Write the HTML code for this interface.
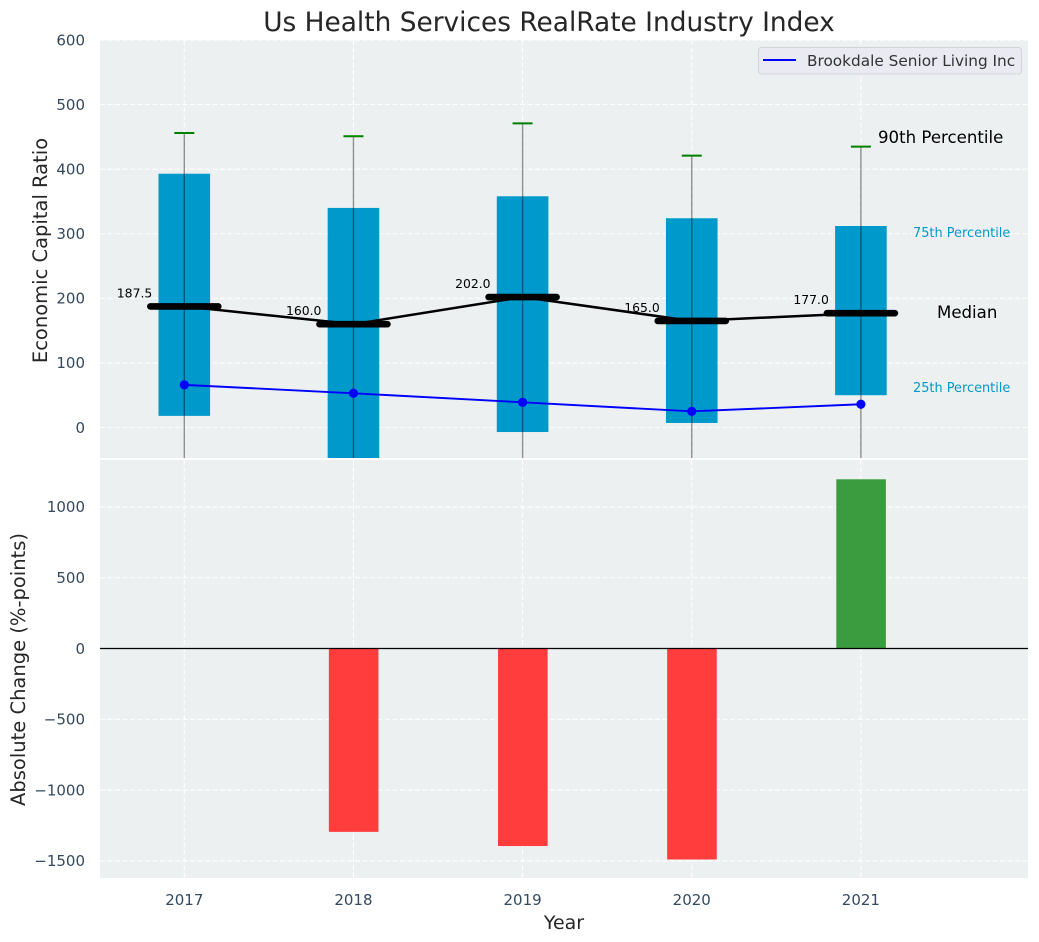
<!DOCTYPE html>
<html lang="en">
<head>
<meta charset="utf-8">
<title>Us Health Services RealRate Industry Index</title>
<style>
html,body{margin:0;padding:0;background:#fff;width:1039px;height:942px;overflow:hidden}
svg{display:block}
text{font-family:"DejaVu Sans","Liberation Sans",sans-serif}
</style>
</head>
<body>
<svg id="chart" xmlns="http://www.w3.org/2000/svg" width="1039" height="942" viewBox="0 0 1039 942"></svg>
<script>
const years = [2017, 2018, 2019, 2020, 2021];
const p25 = [18, -60, -7, 7, 50];
const p75 = [393, 340, 358, 324, 312];
const p90 = [456, 451, 471, 421, 435];
const p10 = [-100, -110, -105, -100, -90];
const medians = [187.5, 160, 202, 165, 177];
const company = [66, 53, 39, 25, 36];
const changes = [0, -1295, -1395, -1490, 1195];
const topTicks = [0, 100, 200, 300, 400, 500, 600];
const bottomTicks = [-1500, -1000, -500, 0, 500, 1000];

const NS = 'http://www.w3.org/2000/svg';
const svg = document.getElementById('chart');
const L = 100, R = 1028, T1 = 40, B1 = 458, T2 = 460, B2 = 878;
const x = v => 184.3 + (v - 2017) * 169.15;
const y1 = v => 427.5 - v * 0.6458;
const y2 = v => 648.5 - v * 0.1416;
const fmt = v => String(v).replace('-', '\u2212');

function el(tag, attrs, parent, text) {
  const e = document.createElementNS(NS, tag);
  for (const k in attrs) e.setAttribute(k, attrs[k]);
  if (text !== undefined) e.textContent = text;
  (parent || svg).appendChild(e);
  return e;
}

const defs = el('defs', {});
const clipA = el('clipPath', {id: 'clip-top'}, defs);
el('rect', {x: L, y: T1, width: R - L, height: B1 - T1}, clipA);
const clipB = el('clipPath', {id: 'clip-bottom'}, defs);
el('rect', {x: L, y: T2, width: R - L, height: B2 - T2}, clipB);

/* panels */
const topBg = el('rect', {x: L, y: T1, width: R - L, height: B1 - T1, fill: '#ecf0f1'});


const botBg = el('rect', {x: L, y: T2, width: R - L, height: B2 - T2, fill: '#ecf0f1'});



/* grids */
const gridStyle = {stroke: '#fff', 'stroke-width': 1.1, 'stroke-dasharray': '5 2.5', opacity: 0.95};
const gridTop = el('g', gridStyle);


topTicks.forEach(t => el('line', {x1: L, x2: R, y1: y1(t), y2: y1(t)}, gridTop));
years.forEach(v => el('line', {x1: x(v), x2: x(v), y1: T1, y2: B1}, gridTop));
const gridBottom = el('g', gridStyle);


bottomTicks.forEach(t => el('line', {x1: L, x2: R, y1: y2(t), y2: y2(t)}, gridBottom));
years.forEach(v => el('line', {x1: x(v), x2: x(v), y1: T2, y2: B2}, gridBottom));

/* top series */
const topG = el('g', {'clip-path': 'url(#clip-top)'});


const halfBar = 25.8;
years.forEach((v, i) => {
  const bar = el('rect', {x: x(v) - halfBar, y: y1(p75[i]), width: halfBar * 2, height: y1(p25[i]) - y1(p75[i]), fill: '#0099cc'}, topG);
  
  
});
years.forEach((v, i) => {
  const w = el('line', {x1: x(v), x2: x(v), y1: y1(p90[i]), y2: y1(p10[i]), stroke: '#000', 'stroke-opacity': 0.42, 'stroke-width': 1.4}, topG);
  
  
  const c = el('line', {x1: x(v) - 10, x2: x(v) + 10, y1: y1(p90[i]), y2: y1(p90[i]), stroke: '#008000', 'stroke-width': 2}, topG);
  
  
});
const medLine = el('polyline', {points: years.map((v, i) => x(v) + ',' + y1(medians[i])).join(' '), fill: 'none', stroke: '#000', 'stroke-width': 2.5}, topG);


years.forEach((v, i) => {
  const m = el('line', {x1: x(v) - 34, x2: x(v) + 34, y1: y1(medians[i]), y2: y1(medians[i]), stroke: '#000', 'stroke-width': 6.6, 'stroke-linecap': 'round'}, topG);
  
  
  const t = el('text', {x: x(v) - 67.5, y: y1(medians[i]) - 9, 'font-size': 12.4, fill: '#000'}, topG, medians[i].toFixed(1));
  
  
});
const coLine = el('polyline', {points: years.map((v, i) => x(v) + ',' + y1(company[i])).join(' '), fill: 'none', stroke: '#0000ff', 'stroke-width': 1.9}, topG);


years.forEach((v, i) => {
  const d = el('circle', {cx: x(v), cy: y1(company[i]), r: 4.6, fill: '#0000ff'}, topG);
  
  
});

/* percentile annotations */
const a90 = el('text', {x: 878, y: 143, 'font-size': 16.6, fill: '#000'}, svg, '90th Percentile');


const a75 = el('text', {x: 913, y: 237, 'font-size': 12.9, fill: '#0099cc'}, svg, '75th Percentile');


const aMed = el('text', {x: 937, y: 318, 'font-size': 16.6, fill: '#000'}, svg, 'Median');


const a25 = el('text', {x: 913, y: 392, 'font-size': 12.9, fill: '#0099cc'}, svg, '25th Percentile');



/* legend */
const leg = el('g', {});


el('rect', {x: 758.5, y: 47.5, width: 263, height: 26.5, rx: 3, fill: '#eaeaf2', stroke: '#d4d4d8', 'stroke-width': 1}, leg);
el('line', {x1: 763, x2: 796, y1: 60, y2: 60, stroke: '#0000ff', 'stroke-width': 2}, leg);
el('text', {x: 807, y: 66, 'font-size': 15.3, fill: '#333'}, leg, 'Brookdale Senior Living Inc');

/* bottom bars */
const botG = el('g', {'clip-path': 'url(#clip-bottom)'});


years.forEach((v, i) => {
  if (!changes[i]) return;
  const top = Math.min(y2(0), y2(changes[i]));
  const b = el('rect', {x: x(v) - 24.6, y: top, width: 49.6, height: Math.abs(y2(changes[i]) - y2(0)), fill: changes[i] < 0 ? '#ff3d3d' : '#3b9c3f'}, botG);
  
  
});
const zero = el('line', {x1: L, x2: R, y1: y2(0), y2: y2(0), stroke: '#000', 'stroke-width': 1.2});



/* tick labels */
const tickFill = '#34495e';
topTicks.forEach(t => {
  const e = el('text', {x: 85, y: y1(t) + 5.3, 'font-size': 15, fill: tickFill, 'text-anchor': 'end'}, svg, fmt(t));
  
  
});
bottomTicks.forEach(t => {
  const e = el('text', {x: 85, y: y2(t) + 5.3, 'font-size': 15, fill: tickFill, 'text-anchor': 'end'}, svg, fmt(t));
  
  
});
years.forEach(v => {
  const e = el('text', {x: x(v), y: 905, 'font-size': 15, fill: tickFill, 'text-anchor': 'middle'}, svg, String(v));
  
  
});

/* titles */
const title = el('text', {x: 549, y: 31, 'font-size': 26.4, fill: '#262626', 'text-anchor': 'middle'}, svg, 'Us Health Services RealRate Industry Index');


const yt1 = el('text', {transform: 'translate(47 250.5) rotate(-90)', 'font-size': 19.5, fill: '#262626', 'text-anchor': 'middle'}, svg, 'Economic Capital Ratio');


const yt2 = el('text', {transform: 'translate(25 669.5) rotate(-90)', 'font-size': 19.5, fill: '#262626', 'text-anchor': 'middle'}, svg, 'Absolute Change (%-points)');


const xt = el('text', {x: 564, y: 929, 'font-size': 19, fill: '#262626', 'text-anchor': 'middle'}, svg, 'Year');


</script>
</body>
</html>
